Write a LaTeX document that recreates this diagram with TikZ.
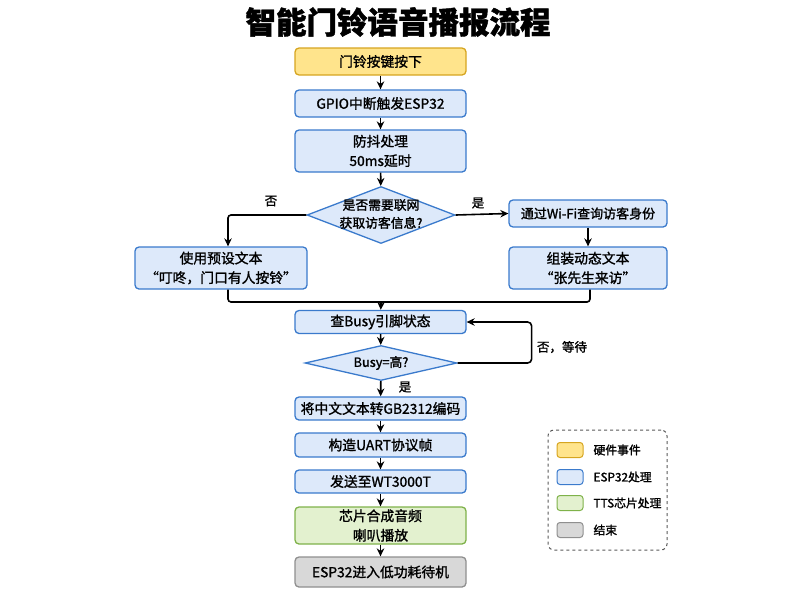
\documentclass[tikz,border=0pt]{standalone}
\usepackage{fontspec}
\setmainfont{Noto Sans CJK SC}[FakeBold=1.4]
\usetikzlibrary{arrows.meta,shapes.geometric,calc}
\definecolor{ybd}{HTML}{D6A520}\definecolor{yfl}{HTML}{FFE48C}
\definecolor{bbd}{HTML}{3A7ACC}\definecolor{bfl}{HTML}{DDE9FA}
\definecolor{gbd}{HTML}{7FB24A}\definecolor{gfl}{HTML}{E3F1CF}
\definecolor{kbd}{HTML}{8F8F8F}\definecolor{kfl}{HTML}{D8D8D8}
\tikzset{
 box/.style={rectangle,rounded corners=4pt,line width=1.3pt,inner sep=0pt,align=center,
   font=\fontsize{13.8}{19.5}\selectfont},
 hw/.style={box,draw=ybd,fill=yfl},
 esp/.style={box,draw=bbd,fill=bfl},
 tts/.style={box,draw=gbd,fill=gfl},
 fin/.style={box,draw=kbd,fill=kfl},
 dia/.style={diamond,draw=bbd,fill=bfl,line width=1.3pt,inner sep=0pt},
 dtext/.style={align=center,font=\fontsize{12.8}{18}\selectfont},
 arr/.style={line width=1.6pt,-{Stealth[length=8pt,width=7.5pt]}},
 ln/.style={line width=1.6pt},
 lab/.style={font=\fontsize{12.5}{14}\selectfont},
 sw/.style={rectangle,rounded corners=3pt,line width=1pt,minimum width=26pt,minimum height=15pt,inner sep=0pt},
 legt/.style={anchor=west,font=\fontsize{11.8}{14}\selectfont}
}
\begin{document}
\begin{tikzpicture}[x=1pt,y=-1pt]
\useasboundingbox (0,0) rectangle (800,600);
\node[font=\fontsize{30.5}{33}\selectfont\bfseries] (title) at (398,22) {智能门铃语音播报流程};
\node[hw,minimum width=171pt,minimum height=27pt] (n1) at (380.5,61.5) {门铃按键按下};
\node[esp,minimum width=171pt,minimum height=27pt] (n2) at (380.5,103.5) {GPIO中断触发ESP32};
\node[esp,minimum width=171pt,minimum height=42pt] (n3) at (380.5,151) {防抖处理\\50ms延时};
\node[dia,minimum width=148pt,minimum height=57pt] (d1) at (381,215) {};
\node[dtext] (d1t) at (381,214) {是否需要联网\\获取访客信息?};
\node[esp,minimum width=172pt,minimum height=42pt] (L) at (221,268) {使用预设文本\\“叮咚，门口有人按铃”};
\node[esp,minimum width=158pt,minimum height=27pt,font=\fontsize{13}{16}\selectfont] (R1) at (588,213.5) {通过Wi-Fi查询访客身份};
\node[esp,minimum width=158pt,minimum height=42pt] (R2) at (588,268) {组装动态文本\\“张先生来访”};
\coordinate (merge) at (381,302);
\node[esp,minimum width=171pt,minimum height=23pt] (n4) at (380.5,322) {查Busy引脚状态};
\node[dia,minimum width=152pt,minimum height=35pt] (d2) at (381,363) {};
\node[dtext] (d2t) at (381,363) {Busy=高?};
\node[esp,minimum width=171pt,minimum height=23pt] (n5) at (380.5,408.5) {将中文文本转GB2312编码};
\node[esp,minimum width=171pt,minimum height=24pt] (n6) at (380.5,445) {构造UART协议帧};
\node[esp,minimum width=171pt,minimum height=23pt] (n7) at (380.5,481.5) {发送至WT3000T};
\node[tts,minimum width=171pt,minimum height=37pt] (n8) at (380.5,525.5) {芯片合成音频\\喇叭播放};
\node[fin,minimum width=171pt,minimum height=30pt] (n9) at (380.5,572) {ESP32进入低功耗待机};
% connectors
\draw[arr] (n1) -- (n2);
\draw[arr] (n2) -- (n3);
\draw[arr] (n3) -- (d1);
\draw[arr,rounded corners=3pt] (d1.west) -| ([xshift=7pt]L.north);
\draw[arr] (d1.east) -- (R1.west);
\draw[arr] (R1) -- (R2);
\draw[ln,rounded corners=3pt] ([xshift=7pt]L.south) |- (merge) -| ([xshift=2pt]R2.south);
\draw[arr] (merge) -- (n4);
\draw[arr] (n4) -- (d2);
\draw[arr,rounded corners=4pt] (d2.east) -- ++(74,0) |- (n4.east);
\draw[arr] (d2) -- (n5);
\draw[arr] (n5) -- (n6);
\draw[arr] (n6) -- (n7);
\draw[arr] (n7) -- (n8);
\draw[arr] (n8) -- (n9);
% labels
\node[lab] (lno) at (271,201) {否};
\node[lab] (lyes) at (478,203) {是};
\node[lab] (lwait) at (562,347) {否，等待};
\node[lab] (lyes2) at (405,387) {是};
% legend
\node[draw=black!65,dashed,line width=1pt,rounded corners=6pt,minimum width=119pt,minimum height=120pt,inner sep=0pt] (leg) at (607.5,490) {};
\node[sw,draw=ybd,fill=yfl] (s1) at (570,450) {};
\node[sw,draw=bbd,fill=bfl] (s2) at (570,477) {};
\node[sw,draw=gbd,fill=gfl] (s3) at (570,503) {};
\node[sw,draw=kbd,fill=kfl] (s4) at (570,530) {};
\node[legt] (t1) at (590,450) {硬件事件};
\node[legt] (t2) at (590,477) {ESP32处理};
\node[legt] (t3) at (590,503) {TTS芯片处理};
\node[legt] (t4) at (590,530) {结束};
\end{tikzpicture}
\end{document}
